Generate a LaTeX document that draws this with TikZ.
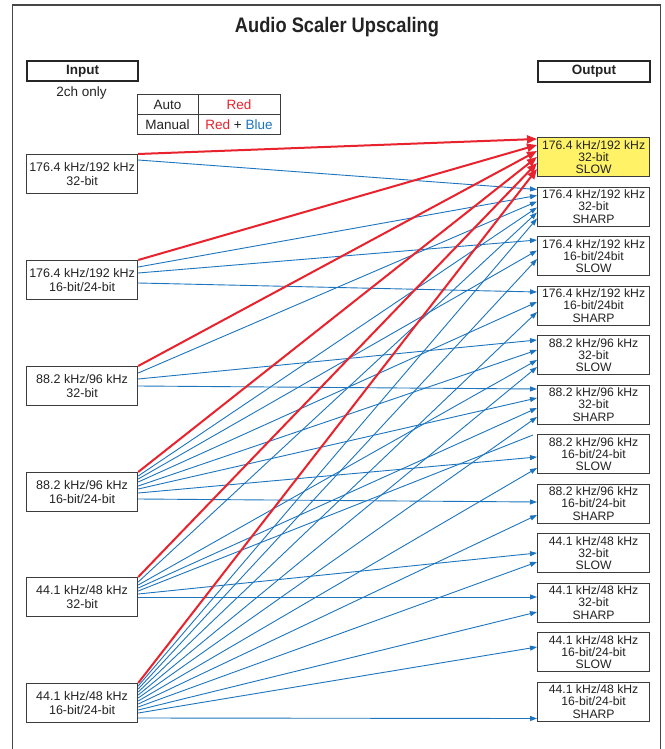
\documentclass[tikz,border=0pt]{standalone}
\usepackage{fontspec}
\setmainfont{Liberation Sans}
\newfontfamily\titlefont[FakeStretch=0.87]{Liberation Sans}
\usetikzlibrary{arrows.meta}
\definecolor{myred}{RGB}{232,35,45}
\definecolor{myblue}{RGB}{28,117,190}
\definecolor{boxgray}{RGB}{60,60,60}
\definecolor{framegray}{RGB}{70,70,70}
\definecolor{txt}{RGB}{35,35,35}
\definecolor{hiyellow}{RGB}{255,242,102}
\begin{document}
\begin{tikzpicture}[x=1pt,y=-1pt,
  inbox/.style={draw=boxgray, line width=1.2pt, fill=white, minimum width=111pt, minimum height=38.5pt,
    inner sep=0pt, anchor=north west, align=center, text=txt, font=\fontsize{12.5}{14}\selectfont},
  outbox/.style={draw=boxgray, line width=1.2pt, fill=white, minimum width=112pt, minimum height=39pt,
    inner sep=0pt, anchor=north west, align=center, text=txt, font=\fontsize{12.2}{12.3}\selectfont},
  hdrbox/.style={draw=black!85, line width=2pt, minimum width=111pt, minimum height=20pt, inner sep=0pt,
    anchor=north west, text=txt, font=\bfseries\fontsize{13.5}{15}\selectfont},
  legcell/.style={draw=boxgray, line width=1pt, minimum height=19.5pt, inner sep=0pt, text=txt,
    font=\fontsize{13.5}{15}\selectfont},
  redarrow/.style={draw=myred, line width=2pt, -{Triangle[length=10pt,width=8pt]}},
  bluearrow/.style={draw=myblue, line width=0.9pt, -{Triangle[length=7pt,width=5pt]}},
  blueline/.style={draw=myblue, line width=0.9pt}
]
\useasboundingbox (0,0) rectangle (664,749);
\fill[white] (0,0) rectangle (664,749);
\draw[framegray, line width=1.3pt] (12.3,749) -- (12.3,5) -- (660.7,5) -- (660.7,749);

\node[font=\titlefont\bfseries\fontsize{21}{24}\selectfont, text=txt] (title) at (337,27) {Audio Scaler Upscaling};

\node[hdrbox] (inhdr) at (26,60) {Input};
\node[hdrbox, minimum width=112pt, minimum height=21pt] (outhdr) at (537,60) {Output};
\node[text=txt, font=\fontsize{13.5}{15}\selectfont] (twoch) at (81.5,93) {2ch only};

\node[legcell, minimum width=61pt] (la) at (167.5,104.75) {Auto};
\node[legcell, minimum width=82pt, text=myred] (lr) at (239,104.75) {Red};
\node[legcell, minimum width=61pt] (lm) at (167.5,124.25) {Manual};
\node[legcell, minimum width=82pt] (lb) at (239,124.25) {\textcolor{myred}{Red} + \textcolor{myblue}{Blue}};

% inputs
\node[inbox] (I1) at (26,154) {176.4 kHz/192 kHz\\32-bit};
\node[inbox] (I2) at (26,260) {176.4 kHz/192 kHz\\16-bit/24-bit};
\node[inbox] (I3) at (26,366) {88.2 kHz/96 kHz\\32-bit};
\node[inbox] (I4) at (26,472) {88.2 kHz/96 kHz\\16-bit/24-bit};
\node[inbox] (I5) at (26,577) {44.1 kHz/48 kHz\\32-bit};
\node[inbox] (I6) at (26,683) {44.1 kHz/48 kHz\\16-bit/24-bit};

% outputs
\node[outbox, fill=hiyellow] (O1) at (537,137) {176.4 kHz/192 kHz\\32-bit\\SLOW};
\node[outbox] (O2) at (537,186.5) {176.4 kHz/192 kHz\\32-bit\\SHARP};
\node[outbox] (O3) at (537,236) {176.4 kHz/192 kHz\\16-bit/24bit\\SLOW};
\node[outbox] (O4) at (537,285.5) {176.4 kHz/192 kHz\\16-bit/24bit\\SHARP};
\node[outbox] (O5) at (537,335) {88.2 kHz/96 kHz\\32-bit\\SLOW};
\node[outbox] (O6) at (537,384.5) {88.2 kHz/96 kHz\\32-bit\\SHARP};
\node[outbox] (O7) at (537,434) {88.2 kHz/96 kHz\\16-bit/24-bit\\SLOW};
\node[outbox] (O8) at (537,483.5) {88.2 kHz/96 kHz\\16-bit/24-bit\\SHARP};
\node[outbox] (O9) at (537,533) {44.1 kHz/48 kHz\\32-bit\\SLOW};
\node[outbox] (O10) at (537,582.5) {44.1 kHz/48 kHz\\32-bit\\SHARP};
\node[outbox] (O11) at (537,632) {44.1 kHz/48 kHz\\16-bit/24-bit\\SLOW};
\node[outbox] (O12) at (537,681.5) {44.1 kHz/48 kHz\\16-bit/24-bit\\SHARP};

% blue connectors
\foreach \a/\sa/\b/\eb in {
  I1/6pt/O2/3pt,
  I2/7pt/O2/9pt, I2/13pt/O3/4pt, I2/23pt/O4/6.5pt,
  I3/7pt/O2/15pt, I3/13pt/O5/5pt, I3/20pt/O6/4.5pt,
  I4/4pt/O2/21pt, I4/7pt/O3/14.5pt, I4/10pt/O4/16.5pt, I4/14pt/O5/15pt,
  I4/17pt/O6/13.5pt, I4/21pt/O7/23pt, I4/27pt/O8/18.5pt,
  I5/5pt/O2/26pt, I5/8pt/O5/25pt, I5/11pt/O6/23.5pt, I5/17pt/O9/20pt, I5/20pt/O10/14.5pt,
  I6/3pt/O2/32pt, I6/6pt/O3/23pt, I6/9pt/O4/26.5pt, I6/12pt/O5/32pt, I6/15pt/O6/32.5pt,
  I6/18pt/O7/34pt, I6/21pt/O8/31.5pt, I6/24pt/O9/29pt, I6/27pt/O10/29.5pt,
  I6/30pt/O11/15pt, I6/35pt/O12/37pt}
  \draw[bluearrow] ([yshift=-\sa]\a.north east) -- ([yshift=-\eb]\b.north west);
\draw[blueline] ([yshift=-14pt]I5.north east) -- ([xshift=-4pt,yshift=-1pt]O7.north west);

% red connectors
\foreach \a/\eb in {I1/2pt, I2/8pt, I3/14pt, I4/20pt, I5/26pt, I6/32pt}
  \draw[redarrow] (\a.north east) -- ([yshift=-\eb]O1.north west);
\end{tikzpicture}
\end{document}
